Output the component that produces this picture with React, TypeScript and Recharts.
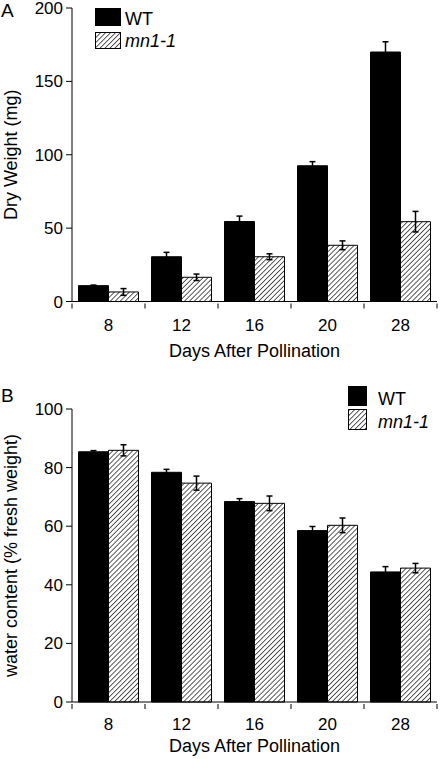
import { BarChart, Bar, XAxis, YAxis, ErrorBar, Legend, Label } from 'recharts';

const FONT = '"Liberation Sans", Arial, sans-serif';

// Days after pollination (categories)
const days = ['8', '12', '16', '20', '28'];

// Panel A: dry weight (mg)
const dryWT = [10.8, 30.5, 54.5, 92.5, 170];
const dryWTErr = [0.4, 3, 3.7, 2.8, 7];
const dryMn = [6.5, 16.5, 30.5, 38.3, 54.4];
const dryMnErr = [2.3, 2.2, 2, 3, 7];
const dryTicks = [0, 50, 100, 150, 200];

// Panel B: water content (% fresh weight)
const waterWT = [85.4, 78.4, 68.4, 58.5, 44.4];
const waterWTErr = [0.4, 1, 1, 1.4, 1.8];
const waterMn = [85.9, 74.7, 67.8, 60.3, 45.7];
const waterMnErr = [1.9, 2.4, 2.5, 2.5, 1.6];
const waterTicks = [0, 20, 40, 60, 80, 100];

const dryData = days.map((day, i) => ({
  day,
  wt: dryWT[i],
  wtErr: dryWTErr[i],
  mn: dryMn[i],
  mnErr: dryMnErr[i],
}));

const waterData = days.map((day, i) => ({
  day,
  wt: waterWT[i],
  wtErr: waterWTErr[i],
  mn: waterMn[i],
  mnErr: waterMnErr[i],
}));

const WIDTH = 442;
const Y_AXIS_W = 72;
const RIGHT = 5;
// half of one category band, ticks sit on the band edges
const HALF_BAND = (WIDTH - Y_AXIS_W - RIGHT) / days.length / 2;

function XTick({ x, y, payload, index, labelDy }: any) {
  return (
    <g>
      <line x1={x - HALF_BAND} x2={x - HALF_BAND} y1={y} y2={y + 5} stroke="#000" />
      {index === days.length - 1 && (
        <line x1={x + HALF_BAND} x2={x + HALF_BAND} y1={y} y2={y + 5} stroke="#000" />
      )}
      <text x={x} y={y + labelDy} textAnchor="middle" fontSize={17} fill="#000" fontFamily={FONT}>
        {payload.value}
      </text>
    </g>
  );
}

function Hatch({ id }: { id: string }) {
  return (
    <defs>
      <pattern id={id} width={3.5} height={3.5} patternUnits="userSpaceOnUse" patternTransform="rotate(45)">
        <rect width={3.5} height={3.5} fill="#fff" />
        <line x1={0} y1={0} x2={0} y2={3.5} stroke="#000" strokeWidth={1.3} />
      </pattern>
    </defs>
  );
}

// swatch sizes: width, first height, gap, second height
function legendContent(patternId: string, sw: number, sh1: number, gap: number, sh2: number, textX: number) {
  return () => (
    <svg width={110} height={sh1 + gap + sh2 + 2} style={{ display: 'block', overflow: 'visible' }}>
      <rect x={0.5} y={0.5} width={sw} height={sh1} fill="#000" stroke="#000" />
      <text x={textX} y={sh1 - 0.5} fontSize={18} fill="#000" fontFamily={FONT}>WT</text>
      <rect x={0.5} y={sh1 + gap + 0.5} width={sw} height={sh2} fill={`url(#${patternId})`} stroke="#000" />
      <text x={textX} y={sh1 + gap + sh2 - 1} fontSize={18} fontStyle="italic" fill="#000" fontFamily={FONT}>
        mn1-1
      </text>
    </svg>
  );
}

function yTitle(text: string, baselineX: number) {
  return ({ viewBox }: any) => {
    const cy = viewBox.y + viewBox.height / 2;
    return (
      <text
        x={baselineX}
        y={cy}
        transform={`rotate(-90 ${baselineX} ${cy})`}
        textAnchor="middle"
        fontSize={18}
        fill="#000"
        fontFamily={FONT}
      >
        {text}
      </text>
    );
  };
}

function xTitle(text: string, dy: number) {
  return ({ viewBox }: any) => (
    <text
      x={viewBox.x + viewBox.width / 2}
      y={viewBox.y + dy}
      textAnchor="middle"
      fontSize={18}
      fill="#000"
      fontFamily={FONT}
    >
      {text}
    </text>
  );
}

const axisStyle = { stroke: '#000', strokeWidth: 1 };

export default function App() {
  return (
    <div style={{ position: 'absolute', left: 0, top: 0, width: WIDTH, height: 759, background: '#fff', fontFamily: FONT }}>
      <svg width={WIDTH} height={759} style={{ position: 'absolute', left: 0, top: 0, pointerEvents: 'none' }}>
        <text x={1} y={17} fontSize={19} fill="#000" fontFamily={FONT}>A</text>
        <text x={1} y={402} fontSize={19} fill="#000" fontFamily={FONT}>B</text>
      </svg>

      {/* Panel A */}
      <div style={{ position: 'absolute', left: 0, top: 0 }}>
        <BarChart
          width={WIDTH}
          height={370}
          data={dryData}
          margin={{ top: 8, right: RIGHT, bottom: 8.5, left: 0 }}
          barCategoryGap={6.5}
          barGap={0}
        >
          <Hatch id="hatchA" />
          <XAxis
            dataKey="day"
            height={60}
            interval={0}
            tickLine={false}
            tickSize={0}
            axisLine={axisStyle}
            tick={(p: any) => <XTick {...p} labelDy={27.5} />}
          >
            <Label content={xTitle('Days After Pollination', 55)} />
          </XAxis>
          <YAxis
            width={Y_AXIS_W}
            domain={[0, 200]}
            ticks={dryTicks}
            interval={0}
            tickSize={6}
            tickMargin={3}
            axisLine={axisStyle}
            tickLine={axisStyle}
            tick={{ fill: '#000', fontSize: 17, fontFamily: FONT }}
          >
            <Label content={yTitle('Dry Weight (mg)', 17)} />
          </YAxis>
          <Legend
            layout="vertical"
            align="center"
            verticalAlign="middle"
            wrapperStyle={{ left: 95, top: 8, width: 110, height: 44 }}
            content={legendContent('hatchA', 25, 17, 7, 16, 30)}
          />
          <Bar dataKey="wt" fill="#000" stroke="#000" strokeWidth={1} isAnimationActive={false}>
            <ErrorBar dataKey="wtErr" direction="y" width={3} stroke="#000" strokeWidth={1.5} />
          </Bar>
          <Bar dataKey="mn" fill="url(#hatchA)" stroke="#000" strokeWidth={1} isAnimationActive={false}>
            <ErrorBar dataKey="mnErr" direction="y" width={3} stroke="#000" strokeWidth={1.5} />
          </Bar>
        </BarChart>
      </div>

      {/* Panel B */}
      <div style={{ position: 'absolute', left: 0, top: 370 }}>
        <BarChart
          width={WIDTH}
          height={389}
          data={waterData}
          margin={{ top: 39, right: RIGHT, bottom: 7, left: 0 }}
          barCategoryGap={6.5}
          barGap={0}
        >
          <Hatch id="hatchB" />
          <XAxis
            dataKey="day"
            height={50}
            interval={0}
            tickLine={false}
            tickSize={0}
            axisLine={axisStyle}
            tick={(p: any) => <XTick {...p} labelDy={26} />}
          >
            <Label content={xTitle('Days After Pollination', 50)} />
          </XAxis>
          <YAxis
            width={Y_AXIS_W}
            domain={[0, 100]}
            ticks={waterTicks}
            interval={0}
            tickSize={6}
            tickMargin={3}
            axisLine={axisStyle}
            tickLine={axisStyle}
            tick={{ fill: '#000', fontSize: 17, fontFamily: FONT }}
          >
            <Label content={yTitle('water content (% fresh weight)', 17)} />
          </YAxis>
          <Legend
            layout="vertical"
            align="center"
            verticalAlign="middle"
            wrapperStyle={{ left: 348, top: 16, width: 94, height: 45 }}
            content={legendContent('hatchB', 18, 19, 4, 20, 30)}
          />
          <Bar dataKey="wt" fill="#000" stroke="#000" strokeWidth={1} isAnimationActive={false}>
            <ErrorBar dataKey="wtErr" direction="y" width={3} stroke="#000" strokeWidth={1.5} />
          </Bar>
          <Bar dataKey="mn" fill="url(#hatchB)" stroke="#000" strokeWidth={1} isAnimationActive={false}>
            <ErrorBar dataKey="mnErr" direction="y" width={3} stroke="#000" strokeWidth={1.5} />
          </Bar>
        </BarChart>
      </div>
    </div>
  );
}
